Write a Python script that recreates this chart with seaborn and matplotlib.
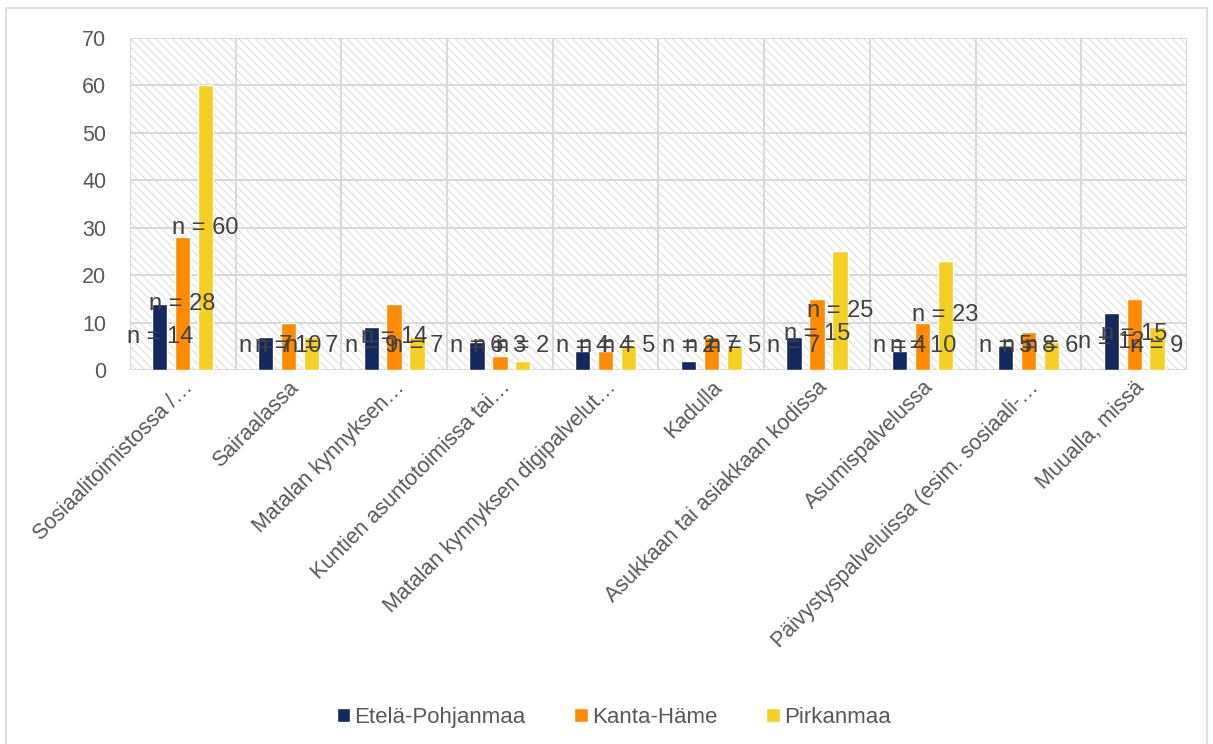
import pandas as pd
import matplotlib.pyplot as plt
import matplotlib.patches as mpatches
import seaborn as sns

# Data
categories = [
    "Sosiaalitoimistossa /…",
    "Sairaalassa",
    "Matalan kynnyksen…",
    "Kuntien asuntotoimissa tai…",
    "Matalan kynnyksen digipalvelut…",
    "Kadulla",
    "Asukkaan tai asiakkaan kodissa",
    "Asumispalvelussa",
    "Päivystyspalveluissa (esim. sosiaali-…",
    "Muualla, missä",
]
regions = ["Etelä-Pohjanmaa", "Kanta-Häme", "Pirkanmaa"]
etela_pohjanmaa = [14, 7, 9, 6, 4, 2, 7, 4, 5, 12]
kanta_hame = [28, 10, 14, 3, 4, 7, 15, 10, 8, 15]
pirkanmaa = [60, 7, 7, 2, 5, 5, 25, 23, 6, 9]
colors = ["#13285E", "#FF8C00", "#F4D022"]
y_ticks = [0, 10, 20, 30, 40, 50, 60, 70]

# Build a long table for seaborn
rows = []
for region, values in zip(regions, [etela_pohjanmaa, kanta_hame, pirkanmaa]):
    for cat, v in zip(categories, values):
        rows.append({"category": cat, "region": region, "value": v})
df = pd.DataFrame(rows)

sns.set_style("white")
plt.rcParams["font.family"] = ["Liberation Sans", "DejaVu Sans"]
plt.rcParams["hatch.linewidth"] = 0.6
plt.rcParams["hatch.color"] = "#d6d6d6"

fig = plt.figure(figsize=(12.13, 7.44), dpi=100)
ax = fig.add_axes([0.107, 0.5027, 0.8716, 0.4463])

# outer chart border
fig.patches.append(mpatches.Rectangle((0.005, -0.01), 0.99, 0.999, transform=fig.transFigure,
                                      fill=False, edgecolor="#d9d9d9", linewidth=1.2))

# hatched plot background
ax.add_patch(mpatches.Rectangle((0, 0), 1, 1, transform=ax.transAxes, facecolor="white",
                                hatch="\\\\\\\\", edgecolor="#d6d6d6", linewidth=0, zorder=0))

sns.barplot(data=df, x="category", y="value", hue="region", palette=colors,
            width=0.65, gap=0.33, ax=ax, zorder=3, saturation=1, legend=True)

# data labels roughly in the middle of each bar (small bars pushed up a bit, like Excel)
for container, values in zip(ax.containers, [etela_pohjanmaa, kanta_hame, pirkanmaa]):
    for bar, v in zip(container, values):
        xc = bar.get_x() + bar.get_width() / 2
        ax.text(xc, max(v / 2, 5.0), f"n = {v}", ha="center", va="center",
                fontsize=17, color="#404040", zorder=5)

ax.set_ylim(0, 70)
ax.set_xlim(-0.5, len(categories) - 0.5)
ax.set_yticks(y_ticks)
ax.set_xlabel("")
ax.set_ylabel("")

# gridlines
for y in y_ticks:
    ax.axhline(y, color="#d9d9d9", linewidth=1.5, zorder=1)
for i in range(len(categories) + 1):
    ax.axvline(i - 0.5, color="#d9d9d9", linewidth=1.5, zorder=1)

for s in ax.spines.values():
    s.set_visible(False)

ax.tick_params(axis="both", length=0, labelsize=15.5, labelcolor="#595959")
ax.tick_params(axis="y", pad=17)
ax.tick_params(axis="x", pad=5)
plt.setp(ax.get_xticklabels(), rotation=45, ha="right", rotation_mode="anchor")

handles, labels = ax.get_legend_handles_labels()
ax.legend(handles, labels, loc="center", bbox_to_anchor=(0.506, 0.036), bbox_transform=fig.transFigure,
          ncol=3, frameon=False, fontsize=16, labelcolor="#595959", handlelength=0.6,
          handleheight=0.6, handletextpad=0.2, columnspacing=2.2)

fig.savefig("out.png", dpi=100)
